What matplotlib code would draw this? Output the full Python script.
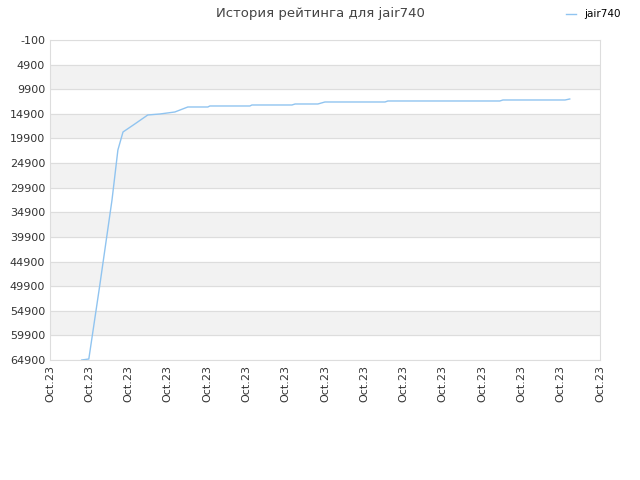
import matplotlib
matplotlib.use("Agg")
import matplotlib.pyplot as plt
import numpy as np

# data (x in tick units, y = rating position)
xs = [0.81, 0.99, 1.27, 1.58, 1.73, 1.86, 2.16, 2.49, 2.80, 3.18, 3.51, 4.02, 4.07,
      5.09, 5.14, 6.16, 6.24, 6.82, 7.0, 8.53, 8.60, 11.45, 11.53, 13.11, 13.23]
ys = [64900, 64697, 49662, 32400, 22244, 18588, 16963, 15134, 14931, 14525, 13509,
      13509, 13306, 13306, 13103, 13103, 12900, 12900, 12494, 12494, 12291, 12291,
      12088, 12088, 11884]
yticks = list(range(-100, 65000, 5000))
xlabels = ["Oct.23"] * 15

fig = plt.figure(figsize=(6.4, 4.8), dpi=100)
ax = fig.add_axes([0.078, 0.25, 0.8595, 0.6667])

for i in range(len(yticks) - 1):
    if i % 2 == 1:
        ax.axhspan(yticks[i], yticks[i + 1], color="#f2f2f2", zorder=0)
for t in yticks:
    ax.axhline(t, color="#dddddd", lw=0.8, zorder=0)

ax.plot(xs, ys, color="#90c4f0", lw=1.0, label="jair740")
ax.set_ylim(64900, -100)
ax.set_xlim(0, 14)
ax.set_yticks(yticks)
ax.set_yticklabels([str(t) for t in yticks], fontsize=8, color="#333333")
ax.set_xticks(range(15))
ax.set_xticklabels(xlabels, rotation=90, fontsize=8, color="#333333")
ax.tick_params(length=0)
for s in ax.spines.values():
    s.set_color("#dddddd")

fig.suptitle("История рейтинга для jair740", fontsize=9.5, color="#444444", y=0.985)
fig.legend(loc="upper right", bbox_to_anchor=(0.985, 1.0), frameon=False, fontsize=7.5,
           handlelength=1.0)
fig.savefig("out.png", dpi=100)
